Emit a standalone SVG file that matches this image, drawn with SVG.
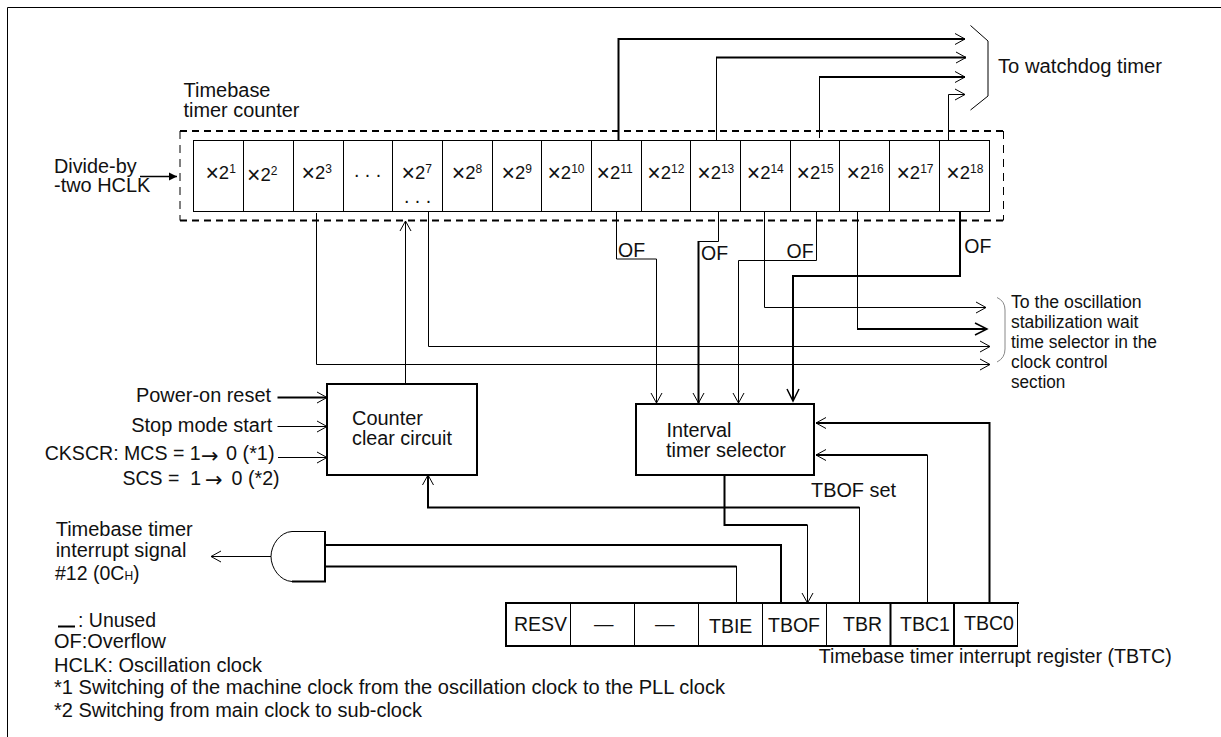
<svg xmlns="http://www.w3.org/2000/svg" width="1221" height="737" viewBox="0 0 1221 737">
<style>
text{font-family:"Liberation Sans",Arial,sans-serif;font-size:19.5px;fill:#111}
.s{font-size:17.5px}
.c{font-size:18.5px}
.c .x{font-size:23px}
.c .e{font-size:12px}
.ar{font-family:"DejaVu Sans",sans-serif;font-size:21px}
.n,.w,.b,.box{fill:none;stroke:#000}
.n{stroke-width:1}
.b{stroke-width:2}
.w{stroke-width:1;marker-end:url(#a)}
.k{fill:none;stroke:#000;stroke-width:2;marker-end:url(#a)}
.K{fill:none;stroke:#000;stroke-width:2;marker-end:url(#A)}
.cell{fill:#fff;stroke:#000;stroke-width:1}
.box{fill:#fff;stroke-width:2}
.dh{fill:none;stroke:#000;stroke-width:2;stroke-dasharray:7 5}
.dv{fill:none;stroke:#000;stroke-width:1;stroke-dasharray:8 6}
</style>
<defs>
<marker id="a" markerUnits="userSpaceOnUse" markerWidth="14" markerHeight="14" refX="11" refY="7" orient="auto"><path d="M1,1.5 L11,7 L1,12.5" fill="none" stroke="#000" stroke-width="1"/></marker>
<marker id="A" markerUnits="userSpaceOnUse" markerWidth="16" markerHeight="16" refX="13" refY="8" orient="auto"><path d="M1,2 L13,8 L1,14" fill="none" stroke="#000" stroke-width="1.5"/></marker>
<marker id="f" markerUnits="userSpaceOnUse" markerWidth="10" markerHeight="10" refX="8" refY="5" orient="auto"><path d="M0,1 L8,5 L0,9 Z" fill="#000"/></marker>
</defs>
<rect width="1221" height="737" fill="#fff"/>
<path id="frame" class="n" d="M7.5,737 V7.5 H1221"/>

<g id="counter-dashed"><path class="dh" d="M180,131 H1003.5 M180,220.5 H1003.5"/><path class="dv" d="M180,131 V220.5 M1003.5,131 V220.5"/></g>

<g id="cells">
<g id="c1"><rect class="cell" x="193.5" y="140.5" width="50" height="71"/><text class="c" x="205.4" y="179"><tspan class="x" dy="2">×</tspan><tspan dy="-2">2</tspan><tspan class="e" dy="-6">1</tspan></text></g>
<g id="c2"><rect class="cell" x="243.5" y="140.5" width="50" height="71"/><text class="c" x="247" y="181"><tspan class="x" dy="2">×</tspan><tspan dy="-2">2</tspan><tspan class="e" dy="-6">2</tspan></text></g>
<g id="c3"><rect class="cell" x="293.5" y="140.5" width="50" height="71"/><text class="c" x="301.5" y="179"><tspan class="x" dy="2">×</tspan><tspan dy="-2">2</tspan><tspan class="e" dy="-6">3</tspan></text></g>
<g id="c-dots"><rect class="cell" x="343.5" y="140.5" width="49" height="71"/><text x="354" y="177">. . .</text></g>
<g id="c7"><rect class="cell" x="392.5" y="140.5" width="50" height="71"/><text class="c" x="401.5" y="179"><tspan class="x" dy="2">×</tspan><tspan dy="-2">2</tspan><tspan class="e" dy="-6">7</tspan></text><text x="404" y="203">. . .</text></g>
<g id="c8"><rect class="cell" x="442.5" y="140.5" width="50" height="71"/><text class="c" x="451.7" y="179"><tspan class="x" dy="2">×</tspan><tspan dy="-2">2</tspan><tspan class="e" dy="-6">8</tspan></text></g>
<g id="c9"><rect class="cell" x="492.5" y="140.5" width="49" height="71"/><text class="c" x="501.5" y="179"><tspan class="x" dy="2">×</tspan><tspan dy="-2">2</tspan><tspan class="e" dy="-6">9</tspan></text></g>
<g id="c10"><rect class="cell" x="541.5" y="140.5" width="50" height="71"/><text class="c" x="547.4" y="179"><tspan class="x" dy="2">×</tspan><tspan dy="-2">2</tspan><tspan class="e" dy="-6">10</tspan></text></g>
<g id="c11"><rect class="cell" x="591.5" y="140.5" width="50" height="71"/><text class="c" x="596.5" y="179"><tspan class="x" dy="2">×</tspan><tspan dy="-2">2</tspan><tspan class="e" dy="-6">11</tspan></text></g>
<g id="c12"><rect class="cell" x="641.5" y="140.5" width="49" height="71"/><text class="c" x="647.3" y="179"><tspan class="x" dy="2">×</tspan><tspan dy="-2">2</tspan><tspan class="e" dy="-6">12</tspan></text></g>
<g id="c13"><rect class="cell" x="690.5" y="140.5" width="50" height="71"/><text class="c" x="697.2" y="179"><tspan class="x" dy="2">×</tspan><tspan dy="-2">2</tspan><tspan class="e" dy="-6">13</tspan></text></g>
<g id="c14"><rect class="cell" x="740.5" y="140.5" width="50" height="71"/><text class="c" x="746.7" y="179"><tspan class="x" dy="2">×</tspan><tspan dy="-2">2</tspan><tspan class="e" dy="-6">14</tspan></text></g>
<g id="c15"><rect class="cell" x="790.5" y="140.5" width="49" height="71"/><text class="c" x="796.6" y="179"><tspan class="x" dy="2">×</tspan><tspan dy="-2">2</tspan><tspan class="e" dy="-6">15</tspan></text></g>
<g id="c16"><rect class="cell" x="839.5" y="140.5" width="50" height="71"/><text class="c" x="846.5" y="179"><tspan class="x" dy="2">×</tspan><tspan dy="-2">2</tspan><tspan class="e" dy="-6">16</tspan></text></g>
<g id="c17"><rect class="cell" x="889.5" y="140.5" width="50" height="71"/><text class="c" x="896.4" y="179"><tspan class="x" dy="2">×</tspan><tspan dy="-2">2</tspan><tspan class="e" dy="-6">17</tspan></text></g>
<g id="c18"><rect class="cell" x="939.5" y="140.5" width="50" height="71"/><text class="c" x="946.3" y="179"><tspan class="x" dy="2">×</tspan><tspan dy="-2">2</tspan><tspan class="e" dy="-6">18</tspan></text></g>
</g>

<g id="connectors">
<path class="k" d="M618.5,140 V39 H965"/>
<path class="n" d="M716.5,140 V57.5"/><path class="k" d="M716,57.5 H966"/>
<path class="n" d="M819.5,138 V77"/><path class="k" d="M819,77 H965"/>
<path class="w" d="M948.5,140 V94.5 H965"/>
<path class="w" d="M616.5,211 V259 H656.5 V403"/>
<path class="n" d="M718.5,211 V241.5 H698.5"/><path class="k" d="M698.5,241 V403"/>
<path class="w" d="M816.5,211 V260.5 H738.5 V403"/>
<path class="K" d="M960,211 V276 H793 V401"/>
<path class="w" d="M764.5,211 V307.5 H986"/>
<path class="n" d="M857.5,211 V329"/><path class="K" d="M857,329 H987"/>
<path class="w" d="M428.5,211 V346.5 H990"/>
<path class="w" d="M316.5,213 V364.5 H990"/>
<path class="w" d="M405.5,384 V221"/>
<path fill="none" stroke="#000" stroke-width="1.5" marker-end="url(#f)" d="M140,176.5 H177"/>
<path class="k" d="M277.5,397.5 H327"/>
<path class="w" d="M277.5,426.5 H327"/>
<path class="w" d="M278,457.5 H327"/>
<path class="k" d="M859.5,507.5 H428 V475"/><path class="n" d="M859.5,507 V603"/>
<path class="b" d="M724.5,475 V525 H807.5"/><path class="w" d="M807.5,525 V603"/>
<path class="b" d="M325,545 H781 V603"/>
<path class="b" d="M325,566.5 H736.5"/><path class="n" d="M736.5,566 V603"/>
<path class="n" d="M927.5,603 V455"/><path class="k" d="M927.5,455 H816"/>
<path class="k" d="M989.5,603 V423 H816"/>
<path class="w" d="M271,556.5 H211"/>
</g>

<g id="watchdog-bracket"><path class="n" d="M970.5,25.5 L988,41 V96 L970.5,110"/><text x="998" y="72.7" textLength="164" lengthAdjust="spacingAndGlyphs">To watchdog timer</text></g>
<g id="counter-label"><text x="183.5" y="96.7" textLength="87" lengthAdjust="spacingAndGlyphs">Timebase</text><text x="183.5" y="116.7" textLength="116" lengthAdjust="spacingAndGlyphs">timer counter</text></g>
<g id="hclk-label"><text x="54" y="173.3" textLength="82.6" lengthAdjust="spacingAndGlyphs">Divide-by</text><text x="54" y="192" textLength="96.4" lengthAdjust="spacingAndGlyphs">-two HCLK</text></g>
<g id="of-labels"><text x="618" y="256.7">OF</text><text x="701" y="260">OF</text><text x="786.5" y="257.7">OF</text><text x="964.3" y="252.7">OF</text></g>

<g id="osc-label"><path fill="none" stroke="#888" stroke-width="1" d="M997,297.5 Q1005,301 1005,310 V349 Q1005,358 997,362"/>
<text class="s" x="1011" y="308.3" textLength="130.7" lengthAdjust="spacingAndGlyphs">To the oscillation</text>
<text class="s" x="1011" y="328.3" textLength="127.4" lengthAdjust="spacingAndGlyphs">stabilization wait</text>
<text class="s" x="1011" y="348.3" textLength="146" lengthAdjust="spacingAndGlyphs">time selector in the</text>
<text class="s" x="1011" y="368" textLength="96.7" lengthAdjust="spacingAndGlyphs">clock control</text>
<text class="s" x="1011" y="388" textLength="54.3" lengthAdjust="spacingAndGlyphs">section</text></g>

<g id="clear-inputs">
<text x="136" y="401.7" textLength="135" lengthAdjust="spacingAndGlyphs">Power-on reset</text>
<text x="131.2" y="431.7" textLength="141" lengthAdjust="spacingAndGlyphs">Stop mode start</text>
<text y="460.3"><tspan x="44.7" textLength="156" lengthAdjust="spacingAndGlyphs">CKSCR: MCS = 1</tspan><tspan class="ar" x="201" dy="3">→</tspan><tspan x="226" dy="-3" textLength="48.5" lengthAdjust="spacingAndGlyphs">0 (*1)</tspan></text>
<text y="485" xml:space="preserve"><tspan x="122.5" textLength="78.5" lengthAdjust="spacingAndGlyphs">SCS =  1</tspan><tspan class="ar" x="205" dy="1.5">→</tspan><tspan x="231.6" dy="-1.5" textLength="48" lengthAdjust="spacingAndGlyphs">0 (*2)</tspan></text>
</g>

<g id="counter-clear"><rect class="box" x="327" y="384" width="150" height="91"/><text x="352" y="425" textLength="71" lengthAdjust="spacingAndGlyphs">Counter</text><text x="352" y="445" textLength="100" lengthAdjust="spacingAndGlyphs">clear circuit</text></g>
<g id="interval-selector"><rect class="box" x="636" y="404" width="178" height="71"/><text x="666.5" y="436.7" textLength="65" lengthAdjust="spacingAndGlyphs">Interval</text><text x="666" y="456.7" textLength="120" lengthAdjust="spacingAndGlyphs">timer selector</text></g>
<text x="811" y="496.7" textLength="85" lengthAdjust="spacingAndGlyphs">TBOF set</text>

<g id="and-gate"><path fill="#fff" stroke="#000" stroke-width="1" d="M325,531.5 H292 C280,532 271,545 271,556.5 C271,568 280,581 292,581.5 H325"/><path class="b" d="M325,531 V582.5 M292,581.5 H325"/></g>
<g id="interrupt-label"><text x="55.7" y="536" textLength="137" lengthAdjust="spacingAndGlyphs">Timebase timer</text><text x="55.7" y="557" textLength="130.7" lengthAdjust="spacingAndGlyphs">interrupt signal</text><text x="55" y="580">#12 (0C<tspan font-size="12">H</tspan>)</text></g>

<g id="register">
<rect class="cell" x="506" y="603" width="64.5" height="43"/><text x="514" y="631">RESV</text>
<rect class="cell" x="570.5" y="603" width="64" height="43"/><text x="594" y="631">—</text>
<rect class="cell" x="634.5" y="603" width="64" height="43"/><text x="655" y="631">—</text>
<g id="tbie"><rect class="cell" x="698.5" y="603" width="64" height="43"/><text x="709" y="632.7">TBIE</text></g>
<g id="tbof"><rect class="cell" x="762.5" y="603" width="64" height="43"/><text x="768" y="632">TBOF</text></g>
<g id="tbr"><rect class="cell" x="826.5" y="603" width="64" height="43"/><text x="843" y="631">TBR</text></g>
<g id="tbc1"><rect class="cell" x="890.5" y="603" width="63.5" height="43"/><text x="900" y="631" textLength="50" lengthAdjust="spacingAndGlyphs">TBC1</text></g>
<g id="tbc0"><rect class="cell" x="954" y="603" width="63.5" height="43"/><text x="964" y="630" textLength="50" lengthAdjust="spacingAndGlyphs">TBC0</text></g>
<path class="b" d="M506,602 V647 M506,603 H1019 M505,646 H1018 M890.5,603 V646 M954,603 V646"/>
</g>
<text x="818.8" y="663.3" textLength="353" lengthAdjust="spacingAndGlyphs">Timebase timer interrupt register (TBTC)</text>

<g id="legend">
<path class="b" d="M58,626.5 H75"/>
<text x="78" y="627" textLength="78" lengthAdjust="spacingAndGlyphs">: Unused</text>
<text x="54" y="648" textLength="112" lengthAdjust="spacingAndGlyphs">OF:Overflow</text>
<text x="54" y="671.7" textLength="208" lengthAdjust="spacingAndGlyphs">HCLK: Oscillation clock</text>
<text x="54" y="694.3" textLength="671" lengthAdjust="spacingAndGlyphs">*1 Switching of the machine clock from the oscillation clock to the PLL clock</text>
<text x="54" y="716.7" textLength="368" lengthAdjust="spacingAndGlyphs">*2 Switching from main clock to sub-clock</text>
</g>
</svg>
